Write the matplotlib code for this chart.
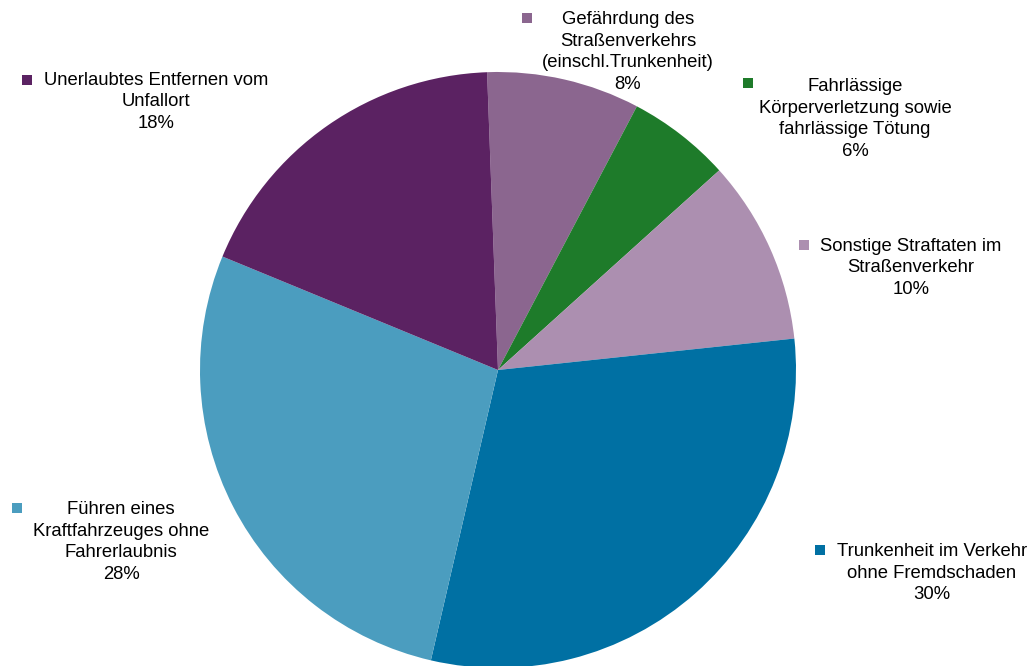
import matplotlib
matplotlib.use("Agg")
import matplotlib.pyplot as plt
from matplotlib.patches import Rectangle

plt.rcParams['font.family'] = ['Liberation Sans', 'DejaVu Sans']

# Data (clockwise from top)
categories = [
    "Gefährdung des\nStraßenverkehrs\n(einschl.Trunkenheit)",
    "Fahrlässige\nKörperverletzung sowie\nfahrlässige Tötung",
    "Sonstige Straftaten im\nStraßenverkehr",
    "Trunkenheit im Verkehr\nohne Fremdschaden",
    "Führen eines\nKraftfahrzeuges ohne\nFahrerlaubnis",
    "Unerlaubtes Entfernen vom\nUnfallort",
]
shares = [8.3, 5.6, 10.0, 30.3, 27.6, 18.2]
colors = ["#8B668F", "#1E7B2A", "#AC8FB0", "#0070A3", "#4B9DBF", "#5B2262"]

W, H = 1035, 666
fig = plt.figure(figsize=(W / 100, H / 100), dpi=100)

# Pie geometry in pixels
cx, cy, r = 498, 370, 298
ax = fig.add_axes([(cx - r) / W, (H - cy - r) / H, 2 * r / W, 2 * r / H])
ax.pie(shares, colors=colors, startangle=92.1, counterclock=False,
       radius=1, wedgeprops=dict(linewidth=0))
ax.set_xlim(-1, 1)
ax.set_ylim(-1, 1)
ax.set_aspect('equal')
ax.axis('off')

# Label layout (pixel coords, from top-left): text block center, marker top-left
label_pos = [(628, 52), (855, 119), (911, 268), (932, 573), (121, 542), (156, 102)]
marker_pos = [(522, 13), (743, 78), (799, 240), (815, 545), (12, 503), (22, 75)]
msize = 10

for cat, val, col, (tx, ty), (mx, my) in zip(categories, shares, colors, label_pos, marker_pos):
    fig.text(tx / W, 1 - ty / H, f"{cat}\n{round(val):d}%", ha='center', va='center',
             multialignment='center', fontsize=13.3, color='black', linespacing=1.38)
    fig.add_artist(Rectangle((mx / W, 1 - (my + msize) / H), msize / W, msize / H,
                             transform=fig.transFigure, facecolor=col, edgecolor='none'))

fig.savefig("out.png", dpi=100)
